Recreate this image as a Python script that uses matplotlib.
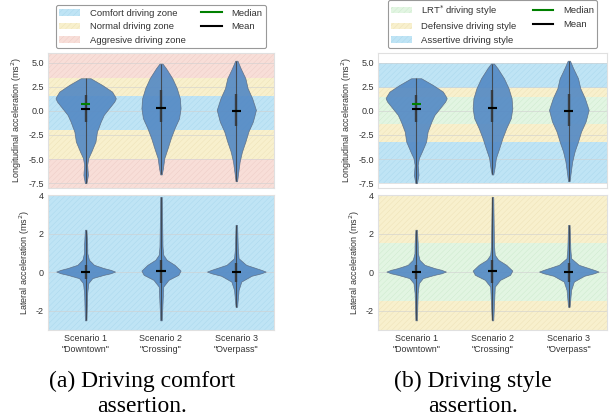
import numpy as np
import matplotlib
matplotlib.use('Agg')
import matplotlib.pyplot as plt
from matplotlib.patches import Patch
from matplotlib.lines import Line2D

plt.rcParams['font.family'] = ['Liberation Sans', 'DejaVu Sans']
plt.rcParams['axes.unicode_minus'] = False
plt.rcParams['hatch.linewidth'] = 0.3

scenarios = ['Scenario 1\n"Downtown"', 'Scenario 2\n"Crossing"', 'Scenario 3\n"Overpass"']
positions = [1, 2, 3]

# Longitudinal acceleration: density profile per scenario (value, half width)
lon_y = [
    [-7.5, -6.64, -5.6, -4.9, -4.22, -3.19, -2.15, -1.11, -0.42, 0.27, 0.96, 1.3, 1.48, 2.0, 2.68, 3.38],
    [-6.6, -5.94, -4.9, -3.87, -2.83, -1.8, -0.76, 0.27, 1.31, 2.35, 3.38, 4.42, 4.9],
    [-7.3, -6.3, -5.26, -4.22, -3.19, -2.15, -1.1, 0.1, 1.31, 2.35, 3.38, 4.42, 5.2],
]
lon_w = [
    [0.01, 0.03, 0.02, 0.035, 0.075, 0.13, 0.15, 0.2, 0.24, 0.31, 0.38, 0.40, 0.39, 0.35, 0.22, 0.066],
    [0.01, 0.026, 0.044, 0.088, 0.13, 0.18, 0.24, 0.26, 0.25, 0.21, 0.15, 0.066, 0.02],
    [0.01, 0.026, 0.044, 0.075, 0.12, 0.16, 0.22, 0.26, 0.21, 0.15, 0.12, 0.057, 0.015],
]
lon_mean = [0.15, 0.27, 0.0]
lon_median = [0.75, 0.3, 0.0]
lon_q1 = [-1.2, -1.2, -1.52]
lon_q3 = [1.6, 2.17, 1.73]

# Lateral acceleration
lat_y = [
    [-2.5, -1.09, -0.57, -0.31, -0.14, -0.06, 0.03, 0.12, 0.21, 0.38, 0.64, 0.98, 1.5, 2.2],
    [-2.5, -0.75, -0.4, -0.14, 0.08, 0.38, 0.64, 0.9, 1.33, 3.9],
    [-1.8, -0.92, -0.49, -0.19, -0.06, 0.03, 0.12, 0.21, 0.38, 0.72, 1.16, 2.45],
]
lat_w = [
    [0.01, 0.02, 0.035, 0.088, 0.24, 0.33, 0.39, 0.33, 0.24, 0.11, 0.044, 0.022, 0.02, 0.01],
    [0.01, 0.03, 0.1, 0.23, 0.26, 0.18, 0.075, 0.03, 0.02, 0.01],
    [0.01, 0.03, 0.066, 0.2, 0.33, 0.39, 0.33, 0.26, 0.13, 0.03, 0.02, 0.01],
]
lat_mean = [0.03, 0.08, 0.03]
lat_median = [0.02, 0.06, 0.02]
lat_q1 = [-0.35, -0.57, -0.49]
lat_q3 = [0.38, 0.64, 0.47]

# Zone / style bands
blue, yellow, red, green = '#bfe4f5', '#f8f0cd', '#f8ded8', '#e2f5e2'
hatch_col = {blue: '#a8d6ec', yellow: '#ece0b4', red: '#eccac4', green: '#cbe9cb'}

comfort_lon = [(-2.0, 1.5)]
normal_lon = [(1.5, 3.4), (-5.0, -2.0)]
aggressive_lon = [(3.4, 6.0), (-8.0, -5.0)]
comfort_lat = [(-3.0, 4.0)]

lrt_lon = [(-1.4, 1.4)]
defensive_lon = [(1.4, 2.4), (-3.2, -1.4)]
assertive_lon = [(2.4, 5.0), (-7.5, -3.2)]
lrt_lat = [(-1.5, 1.5)]
defensive_lat = [(1.5, 4.0), (-3.0, -1.5)]


def add_bands(ax, spans, color):
    for lo, hi in spans:
        ax.axhspan(lo, hi, facecolor=color, edgecolor=hatch_col[color],
                   hatch='//////', lw=0, zorder=0)


def draw_violins(ax, ys, ws, mean, median, q1, q3):
    stats = []
    widths = []
    for y, w in zip(ys, ws):
        stats.append(dict(coords=np.array(y), vals=np.array(w), mean=0.0,
                          median=0.0, min=y[0], max=y[-1], quantiles=[]))
        widths.append(2 * max(w))
    parts = ax.violin(stats, positions=positions, widths=widths,
                      showmeans=False, showextrema=False, showmedians=False)
    for body in parts['bodies']:
        body.set_facecolor('#5288c4')
        body.set_edgecolor('#5a6a80')
        body.set_linewidth(0.5)
        body.set_alpha(0.9)
        body.set_zorder(2)
    mins = [y[0] for y in ys]
    maxs = [y[-1] for y in ys]
    pos = np.array(positions)
    ax.vlines(pos, mins, maxs, color='#3a3a3a', lw=0.8, alpha=0.8, zorder=3)
    ax.vlines(pos, q1, q3, color='#333333', lw=1.7, alpha=0.85, zorder=3)
    ax.hlines(median, pos - 0.06, pos + 0.06, color='green', lw=1.5, zorder=4)
    ax.hlines(mean, pos - 0.06, pos + 0.06, color='black', lw=1.5, zorder=5)


def style_axes(ax, ylim, yticks, fmt):
    ax.set_xlim(0.5, 3.5)
    ax.set_ylim(*ylim)
    ax.set_yticks(yticks)
    ax.set_yticklabels([fmt.format(t) for t in yticks])
    ax.yaxis.grid(True, color='#d0d0d0', lw=0.6, alpha=0.7)
    ax.set_axisbelow(True)
    ax.tick_params(length=0, labelsize=6.5, labelcolor='#333333', pad=3)
    for s in ax.spines.values():
        s.set_color('#e0e0e0')
        s.set_linewidth(0.8)


fig = plt.figure(figsize=(6.11, 4.19), dpi=100)
W, H = 611, 419


def px_axes(x0, x1, y0, y1):
    return fig.add_axes([x0 / W, 1 - y1 / H, (x1 - x0) / W, (y1 - y0) / H])


lon_ticks = [-7.5, -5.0, -2.5, 0.0, 2.5, 5.0]
lat_ticks = [-2, 0, 2, 4]

panels = [
    (48, 274, [(comfort_lon, blue), (normal_lon, yellow), (aggressive_lon, red)],
     [(comfort_lat, blue)],
     ['Comfort driving zone', 'Normal driving zone', 'Aggresive driving zone'],
     [blue, yellow, red]),
    (378, 607, [(lrt_lon, green), (defensive_lon, yellow), (assertive_lon, blue)],
     [(defensive_lat, yellow), (lrt_lat, green)],
     ['LRT$^{*}$ driving style', 'Defensive driving style', 'Assertive driving style'],
     [green, yellow, blue]),
]

for x0, x1, top_bands, bot_bands, names, cols in panels:
    ax_top = px_axes(x0, x1, 53, 188)
    ax_bot = px_axes(x0, x1, 195, 330)

    for spans, c in top_bands:
        add_bands(ax_top, spans, c)
    for spans, c in bot_bands:
        add_bands(ax_bot, spans, c)

    draw_violins(ax_top, lon_y, lon_w, lon_mean, lon_median, lon_q1, lon_q3)
    draw_violins(ax_bot, lat_y, lat_w, lat_mean, lat_median, lat_q1, lat_q3)

    style_axes(ax_top, (-8, 6), lon_ticks, '{:.1f}')
    style_axes(ax_bot, (-3, 4), lat_ticks, '{:d}')
    ax_top.set_xticks(positions)
    ax_top.set_xticklabels([])
    ax_bot.set_xticks(positions)
    ax_bot.set_xticklabels(scenarios, fontsize=6.4, color='#333333')

    ax_top.set_ylabel('Longitudinal acceleration (ms$^2$)', fontsize=6.5, color='#333333', labelpad=3)
    ax_bot.set_ylabel('Lateral acceleration (ms$^2$)', fontsize=6.5, color='#333333', labelpad=3)

    handles = [Patch(facecolor=c, edgecolor=hatch_col[c], hatch='//////', lw=0) for c in cols]
    handles += [Line2D([], [], color='green', lw=1.5), Line2D([], [], color='black', lw=1.5)]
    labels = names + ['Median', 'Mean']
    leg = ax_top.legend(handles, labels, ncol=2, loc='lower center',
                        bbox_to_anchor=(0.5, 1.035), borderaxespad=0,
                        fontsize=6.8, handlelength=2.2, handletextpad=1.0,
                        columnspacing=1.7, borderpad=0.35, frameon=True,
                        fancybox=True, framealpha=1)
    leg.get_frame().set_edgecolor('#999999')
    leg.get_frame().set_linewidth(0.8)
    for t in leg.get_texts():
        t.set_color('#333333')

# Sub-figure captions
for cx, l1, l2 in [(142, '(a) Driving comfort', 'assertion.'),
                   (473, '(b) Driving style', 'assertion.')]:
    fig.text(cx / W, 1 - 386.7 / H, l1, ha='center', va='baseline',
             fontsize=17, family='Liberation Serif')
    fig.text(cx / W, 1 - 411.7 / H, l2, ha='center', va='baseline',
             fontsize=17, family='Liberation Serif')

fig.savefig('out.png', dpi=100)
